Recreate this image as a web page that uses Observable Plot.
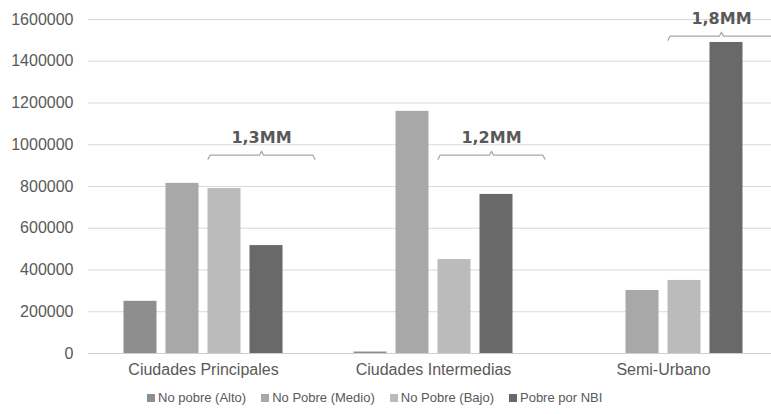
<!DOCTYPE html>
<html>
<head>
<meta charset="utf-8">
<script src="https://cdn.jsdelivr.net/npm/d3@7"></script>
<script src="https://cdn.jsdelivr.net/npm/@observablehq/plot@0.6"></script>
<style>
  body { margin: 0; background: #fff; font-family: "Liberation Sans", Arial, sans-serif; }
  #chart svg { display: block; }
  #legend { display: flex; gap: 15px; margin: 7px 0 0 147px; font-size: 13px; line-height: 14px; color: #595959; }
  #legend .item { display: flex; align-items: center; gap: 3px; }
  #legend .sw { width: 8px; height: 8px; display: inline-block; }
</style>
</head>
<body>
<div id="chart"></div>
<div id="legend"></div>
<script>
// ---- data ----
const categories = ["Ciudades Principales", "Ciudades Intermedias", "Semi-Urbano"];
const seriesNames = ["No pobre (Alto)", "No Pobre (Medio)", "No Pobre (Bajo)", "Pobre por NBI"];
const altoValues  = [250000, 7000, 0];
const medioValues = [815000, 1160000, 302000];
const bajoValues  = [790000, 450000, 350000];
const nbiValues   = [517000, 762000, 1490000];
const yTicks = [0, 200000, 400000, 600000, 800000, 1000000, 1200000, 1400000, 1600000];
const braceLabels = ["1,3MM", "1,2MM", "1,8MM"];
const braceLevels = [950000, 950000, 1520000];

// ---- styles ----
const colors = ["#8e8e8e", "#a8a8a8", "#bbbbbb", "#696969"];
const textColor = "#595959";

// ---- layout in group units (1 unit = one category band) ----
const step = 0.1826, barW = 0.1435, braceLen = 0.465;
const valuesBySeries = [altoValues, medioValues, bajoValues, nbiValues];

const bars = [];
categories.forEach((c, gi) => {
  seriesNames.forEach((s, si) => {
    const cx = gi + (si - 1.5) * step;
    bars.push({category: c, series: s, value: valuesBySeries[si][gi], x1: cx - barW / 2, x2: cx + barW / 2});
  });
});

const dUnit = 1600000 / 334; // one pixel in value units
const braces = [];
const braceText = [];
categories.forEach((c, gi) => {
  const left = gi + 0.5 * step - barW / 2;
  const right = left + braceLen;
  const mid = (left + right) / 2;
  const L = braceLevels[gi];
  const e = 0.009;
  [[left, L - 4 * dUnit], [left + e, L], [mid - e, L], [mid, L + 4 * dUnit], [mid + e, L], [right - e, L], [right, L - 4 * dUnit]]
    .forEach(([x, y]) => braces.push({g: c, x, y}));
  braceText.push({x: mid, y: L, label: braceLabels[gi]});
});

const chart = Plot.plot({
  width: 771,
  height: 384,
  marginLeft: 88,
  marginRight: 0,
  marginTop: 19,
  marginBottom: 31,
  style: {fontFamily: "Liberation Sans, Arial, sans-serif", color: textColor, background: "#fff"},
  x: {domain: [-0.5, 2.5], range: [88, 778]},
  y: {domain: [0, 1600000]},
  marks: [
    Plot.gridY(yTicks, {stroke: "#d9d9d9", strokeOpacity: 1}),
    Plot.ruleY([0], {stroke: "#cfcfcf"}),
    Plot.axisY({ticks: yTicks, tickFormat: d => d3.format("d")(d), tickSize: 0, tickPadding: 15, fontSize: 16}),
    Plot.axisX({ticks: [0, 1, 2], tickFormat: i => categories[i], tickSize: 0, tickPadding: 10, fontSize: 16}),
    Plot.rectY(bars, {x1: "x1", x2: "x2", y1: 0, y2: "value", fill: d => colors[seriesNames.indexOf(d.series)]}),
    Plot.line(braces, {x: "x", y: "y", z: "g", stroke: "#a8a8a8", strokeWidth: 1.3}),
    Plot.text(braceText, {x: "x", y: "y", text: "label", dy: -17, fontSize: 16, fontWeight: "bold", fontFamily: "DejaVu Sans", fill: textColor})
  ]
});
document.getElementById("chart").appendChild(chart);

const legend = document.getElementById("legend");
seriesNames.forEach((s, i) => {
  const item = document.createElement("span");
  item.className = "item";
  const sw = document.createElement("span");
  sw.className = "sw";
  sw.style.background = colors[i];
  const t = document.createElement("span");
  t.textContent = s;
  item.appendChild(sw);
  item.appendChild(t);
  legend.appendChild(item);
});
</script>
</body>
</html>
